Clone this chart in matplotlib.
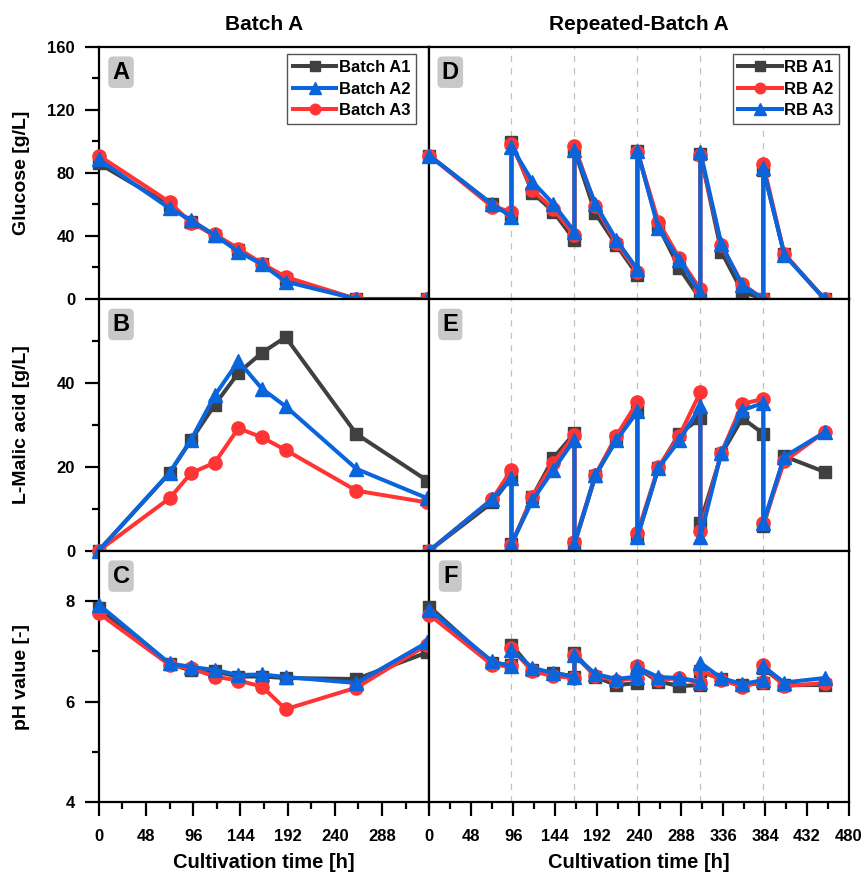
import matplotlib
matplotlib.use('Agg')
import matplotlib.pyplot as plt
from matplotlib.ticker import MultipleLocator, FixedLocator

plt.rcParams['font.family'] = ['Liberation Sans', 'DejaVu Sans']
plt.rcParams['font.weight'] = 'bold'

# Batch A data
t_batch = [0, 72, 94, 118, 142, 166, 190, 262, 334]
glc_A1 = [86, 59.5, 49, 40, 31, 22, 13, 0, 0]
glc_A2 = [88.5, 57.5, 50, 40.5, 30, 22, 11, 0, 0]
glc_A3 = [91, 61.5, 48, 41, 32, 22.5, 14, 0, 0]
mal_A1 = [0, 18.5, 26.4, 34.8, 42.4, 47.2, 50.9, 27.8, 16.7]
mal_A2 = [0, 18.6, 26.5, 37, 45.2, 38.6, 34.4, 19.5, 12.5]
mal_A3 = [0, 12.5, 18.5, 21, 29.2, 27, 24, 14.3, 11.5]
ph_A1 = [7.86, 6.75, 6.62, 6.6, 6.5, 6.5, 6.47, 6.45, 6.98]
ph_A2 = [7.93, 6.76, 6.69, 6.63, 6.53, 6.54, 6.49, 6.37, 7.18]
ph_A3 = [7.76, 6.73, 6.66, 6.5, 6.42, 6.3, 5.85, 6.28, 7.13]

# Repeated-Batch A data
t_rb = [0, 72, 94, 94, 118, 142, 166, 166, 190, 214, 238, 238, 262, 286,
        310, 310, 334, 358, 382, 382, 406, 452]
feeds = [94, 166, 238, 310, 382]
glc_RB1 = [91, 60, 53.5, 99.8, 67.4, 55.4, 37.4, 94.5, 54.3, 34.2, 15.2, 93.8,
           46, 19.5, 0, 92, 30, 4.6, 0, 82, 28.5, 0]
glc_RB2 = [91, 58.5, 55.4, 98.3, 69, 56.9, 40.6, 97, 59, 35.6, 17.3, 93.4,
           49, 25.8, 6.1, 91.3, 34, 9.5, 0, 85.4, 28.5, 0]
glc_RB3 = [91, 60, 52.2, 96.6, 74.4, 60.2, 42.7, 94.5, 60.2, 37.4, 18.8, 94,
           44.8, 24.7, 3.6, 93.4, 34.7, 8.7, 0, 82.9, 28, 0]
mal_RB1 = [0, 11.5, 17.5, 1.5, 12.9, 22.1, 28.0, 1.5, 17.8, 26.8, 33.2, 3.3,
           19.7, 27.9, 31.6, 6.7, 23, 31.6, 27.9, 5.9, 22.5, 18.8]
mal_RB2 = [0, 12.3, 19.3, 1.3, 12.9, 20.9, 27.6, 2.0, 18.1, 27.4, 35.4, 4.2,
           19.9, 27.4, 37.8, 4.8, 23.3, 35, 36.2, 6.5, 21.3, 28.3]
mal_RB3 = [0, 12.3, 17.3, 1.7, 12, 19.3, 26.5, 1.7, 18.1, 26.3, 33.2, 3.3,
           19.7, 26.3, 34.4, 3.3, 23.3, 33.5, 35.2, 6.7, 22.4, 28.2]
ph_RB1 = [7.89, 6.76, 6.73, 7.13, 6.63, 6.57, 6.5, 6.97, 6.49, 6.33, 6.37, 6.67,
          6.4, 6.31, 6.33, 6.6, 6.45, 6.33, 6.37, 6.67, 6.33, 6.33]
ph_RB2 = [7.73, 6.73, 6.7, 7.06, 6.6, 6.51, 6.47, 6.92, 6.51, 6.42, 6.47, 6.7,
          6.43, 6.47, 6.37, 6.63, 6.43, 6.3, 6.4, 6.73, 6.31, 6.37]
ph_RB3 = [7.83, 6.8, 6.7, 7.03, 6.67, 6.57, 6.5, 6.92, 6.55, 6.45, 6.5, 6.68,
          6.49, 6.47, 6.4, 6.77, 6.47, 6.35, 6.43, 6.7, 6.38, 6.47]

GRAY = '#404040'
BLUE = '#0a64dc'
RED = '#ff3535'

fig = plt.figure(figsize=(8.65, 8.81), dpi=100)

x0, xm, x1 = 98.7 / 865, 429.3 / 865, 849 / 865
rows_px = [(46.7, 299.0), (299.0, 550.7), (550.7, 802.3)]

axes = []
for top, bot in rows_px:
    b = 1 - bot / 881
    h = (bot - top) / 881
    axL = fig.add_axes([x0, b, xm - x0, h])
    axR = fig.add_axes([xm, b, x1 - xm, h])
    axes.append((axL, axR))

left_data = [(glc_A1, glc_A2, glc_A3), (mal_A1, mal_A2, mal_A3), (ph_A1, ph_A2, ph_A3)]
right_data = [(glc_RB1, glc_RB2, glc_RB3), (mal_RB1, mal_RB2, mal_RB3), (ph_RB1, ph_RB2, ph_RB3)]
ylims = [(0, 160), (0, 60), (4, 9)]
ymajor = [[0, 40, 80, 120, 160], [0, 20, 40], [4, 6, 8]]
yminor = [[20, 60, 100, 140], [10, 30, 50], [5, 7]]
ylabels = ['Glucose [g/L]', 'L-Malic acid [g/L]', 'pH value [-]']
letters = [('A', 'D'), ('B', 'E'), ('C', 'F')]

kw = dict(lw=2.9, clip_on=False)
sq = dict(marker='s', ms=9)
tri = dict(marker='^', ms=10.5)
cir = dict(marker='o', ms=9.5)

for i, (axL, axR) in enumerate(axes):
    a1, a2, a3 = left_data[i]
    axL.plot(t_batch, a1, color=GRAY, label='Batch A1', zorder=3, **sq, **kw)
    axL.plot(t_batch, a2, color=BLUE, label='Batch A2', zorder=5, **tri, **kw)
    axL.plot(t_batch, a3, color=RED, label='Batch A3', zorder=4, **cir, **kw)

    r1, r2, r3 = right_data[i]
    for f in feeds:
        axR.axvline(f, color='#c0c0c0', lw=0.9, ls=(0, (5, 5)), zorder=1)
    axR.plot(t_rb, r1, color=GRAY, label='RB A1', zorder=3, **sq, **kw)
    axR.plot(t_rb, r2, color=RED, label='RB A2', zorder=4, **cir, **kw)
    axR.plot(t_rb, r3, color=BLUE, label='RB A3', zorder=5, **tri, **kw)

    axL.set_xlim(0, 336)
    axR.set_xlim(0, 480)
    for ax in (axL, axR):
        ax.set_ylim(*ylims[i])
        for s in ax.spines.values():
            s.set_linewidth(1.6)
        ax.tick_params(which='major', length=10, width=1.6, labelsize=12)
        ax.tick_params(which='minor', length=5, width=1.6)
        ax.tick_params(axis='y', pad=7)

    axL.yaxis.set_major_locator(FixedLocator(ymajor[i]))
    axL.yaxis.set_minor_locator(FixedLocator(yminor[i]))
    axR.tick_params(axis='y', which='both', left=False, labelleft=False)

    axL.xaxis.set_minor_locator(MultipleLocator(24))
    axR.xaxis.set_major_locator(MultipleLocator(48))
    axR.xaxis.set_minor_locator(MultipleLocator(24))
    axL.set_xticks([0, 48, 96, 144, 192, 240, 288])
    if i < 2:
        for ax in (axL, axR):
            ax.tick_params(axis='x', which='both', bottom=False, labelbottom=False)
    else:
        for ax in (axL, axR):
            ax.tick_params(axis='x', which='major', pad=9)

    yc = 1 - (rows_px[i][0] + rows_px[i][1]) / 2 / 881
    fig.text(22 / 865, yc, ylabels[i], rotation=90, ha='center', va='center',
             fontsize=14, fontweight='bold')

    box = dict(boxstyle='round,pad=0.18,rounding_size=0.2', fc='#c8c8c8', ec='none')
    axL.text(0.0675, 0.899, letters[i][0], transform=axL.transAxes, ha='center',
             va='center', fontsize=17, fontweight='bold', bbox=box, zorder=6)
    axR.text(0.05, 0.899, letters[i][1], transform=axR.transAxes, ha='center',
             va='center', fontsize=17, fontweight='bold', bbox=box, zorder=6)

leg_kw = dict(loc='upper right', fontsize=12, frameon=True, fancybox=False,
              edgecolor='#555555', framealpha=1, handlelength=2.6,
              handletextpad=0.15, borderpad=0.35, labelspacing=0.4,
              borderaxespad=0, markerscale=0.8)
lg = axes[0][0].legend(bbox_to_anchor=(0.960, 0.971), **leg_kw)
lg.get_frame().set_linewidth(1.0)
lg = axes[0][1].legend(bbox_to_anchor=(0.977, 0.971), **leg_kw)
lg.get_frame().set_linewidth(1.0)

fig.text((x0 + xm) / 2, 1 - 25 / 881, 'Batch A', ha='center', va='center',
         fontsize=15, fontweight='bold')
fig.text((xm + x1) / 2, 1 - 25 / 881, 'Repeated-Batch A', ha='center', va='center',
         fontsize=15, fontweight='bold')
fig.text((x0 + xm) / 2, 1 - 863 / 881, 'Cultivation time [h]', ha='center',
         va='center', fontsize=14.5, fontweight='bold')
fig.text((xm + x1) / 2, 1 - 863 / 881, 'Cultivation time [h]', ha='center',
         va='center', fontsize=14.5, fontweight='bold')

fig.savefig('out.png', dpi=100)
